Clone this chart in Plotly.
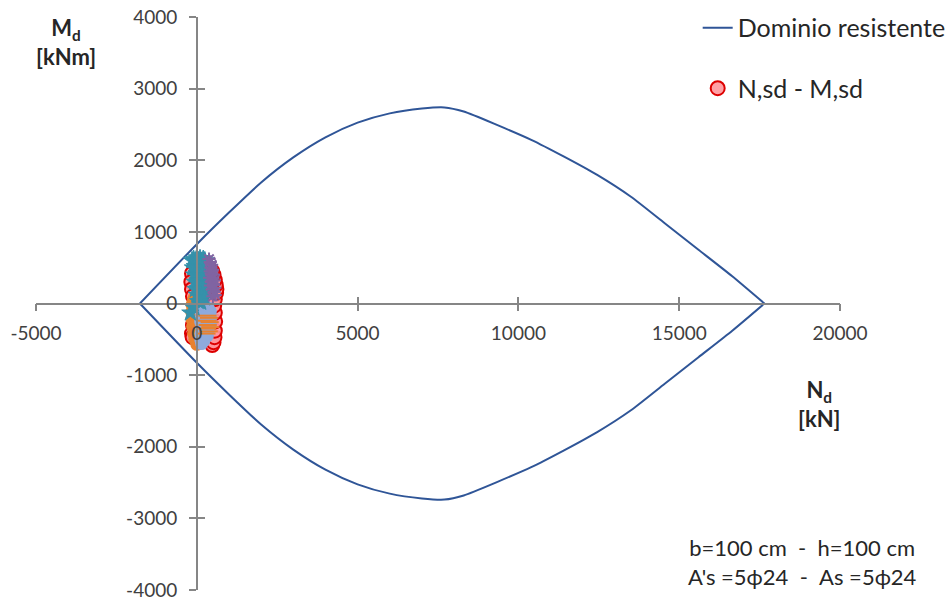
import plotly.graph_objects as go

# Interaction domain (N-M) of the section: upper and lower branches
dom_N_up = [-1770, 0, 1000, 2000, 3000, 4000, 5000, 6000, 7000, 7700, 8300, 9350, 10400,
            11420, 12450, 13500, 14550, 15600, 16650, 17650]
dom_M_up = [0, 828, 1270, 1690, 2040, 2320, 2525, 2655, 2722, 2738, 2680, 2490, 2285,
            2050, 1795, 1490, 1120, 750, 380, 0]
dom_N_low = [17650, 16650, 15600, 14550, 13500, 12450, 11420, 10400, 9350, 8300, 7700, 7000,
             6000, 5000, 4000, 3000, 2000, 1000, 0, -1770]
dom_M_low = [0, -380, -750, -1120, -1490, -1795, -2050, -2285, -2490, -2680, -2738, -2722,
             -2655, -2525, -2320, -2040, -1690, -1270, -828, 0]

# Design actions N,sd - M,sd
sd_N = [-150, -170, -150, -120, -60, 0, 100, 200, 300, 400, 450, 480, 520, 550, 560,
        570, 560, 540, 560, 600, 610, 590, 560, 520, 480, 420, 300, 150, 30, -120, -150, -130]
sd_M = [420, 300, 200, 100, 30, -60, -150, -280, -420, -510, -550, -580, -540, -470, -380,
        -250, -130, -30, 60, 150, 200, 260, 330, 400, 450, 480, 500, 500, 470, -300, -420, -470]

# Other load combinations
teal_N = [-150, -100, -50, 0, 50, 100, 150, 200, 250, -120, -60, 0, 60, 120, 180, 240,
          300, -80, 0, 80, 160, 240, 320, -60, 20, 100, 180, 260, 340, -40, 40, 120,
          200, 280, 0, 80, 160, 240, 40, 120, -200, -90]
teal_M = [600, 620, 580, 640, 600, 630, 590, 620, 600, 500, 520, 500, 530, 500, 510, 490,
          470, 400, 420, 400, 420, 390, 380, 300, 320, 300, 310, 290, 270, 200, 210, 190,
          200, 170, 120, 110, 100, 80, 30, 20, -130, -60]

purple_N = [380, 420, 460, 440, 490, 470, 520, 500, 540, 460, 520, 560, 490, 540, 570,
            500, 420, 400, 430]
purple_M = [620, 580, 540, 500, 470, 420, 400, 350, 320, 300, 260, 220, 200, 160, 120,
            100, 450, 360, 250]

orange_N = [-100, 0, 80, -150, -60, 40, 120, -160, -80, 30, -150, -60, 20, -130, -60, 0,
            -100, -30, 40, -60, 20, 0, 80]
orange_M = [60, 80, 50, -20, -40, -20, -30, -120, -130, -110, -220, -210, -240, -320, -330,
            -300, -420, -430, -400, -500, -520, -570, -560]

lblue_N = [150, 250, 350, 120, 220, 320, 420, 150, 250, 350, 430, 120, 220, 320, 420, 150,
           250, 350, 130, 230, 330, 120, 220, 150]
lblue_M = [-20, -40, -60, -100, -120, -130, -110, -180, -200, -220, -200, -260, -280, -300,
           -290, -340, -360, -380, -420, -440, -450, -500, -520, -560]

dash_N = [330, 380, 320, 400, 340, 420, 320, 370, 300]
dash_M = [-170, -200, -240, -260, -300, -330, -350, -390, -420]

x_ticks = [-5000, 0, 5000, 10000, 15000, 20000]
x_labels = ["-5000", "0", "5000", "10000", "15000", "20000"]
y_ticks = [-4000, -3000, -2000, -1000, 0, 1000, 2000, 3000, 4000]
y_labels = ["-4000", "-3000", "-2000", "-1000", "0", "1000", "2000", "3000", "4000"]

FONT = "Lato"
AXIS_GREY = "#868686"
TEXT = "#262626"
DOM_BLUE = "#2F5597"
PURPLE = "#8064A2"
ORANGE = "#E8812F"

fig = go.Figure()

fig.add_trace(go.Scatter(x=dom_N_up, y=dom_M_up, mode="lines", name="Dominio resistente",
                         line=dict(color=DOM_BLUE, width=2, shape="spline", smoothing=0.6),
                         legendgroup="a"))
fig.add_trace(go.Scatter(x=dom_N_low, y=dom_M_low, mode="lines", showlegend=False,
                         line=dict(color=DOM_BLUE, width=2, shape="spline", smoothing=0.6),
                         legendgroup="a"))
fig.add_trace(go.Scatter(x=sd_N, y=sd_M, mode="markers", name="N,sd - M,sd",
                         marker=dict(symbol="circle", size=14, color="rgba(255,150,155,0.9)",
                                     line=dict(color="#DD0000", width=2)),
                         legendgroup="b"))
fig.add_trace(go.Scatter(x=orange_N, y=orange_M, mode="markers", showlegend=False,
                         marker=dict(symbol="circle", size=13, color=ORANGE)))
fig.add_trace(go.Scatter(x=lblue_N, y=lblue_M, mode="markers", showlegend=False,
                         marker=dict(symbol="circle", size=13, color="#8FAADC")))
fig.add_trace(go.Scatter(x=dash_N, y=dash_M, mode="markers", showlegend=False,
                         marker=dict(symbol="line-ew", size=13, color=ORANGE,
                                     line=dict(color=ORANGE, width=2))))
fig.add_trace(go.Scatter(x=teal_N, y=teal_M, mode="markers", showlegend=False,
                         marker=dict(symbol="star", size=13, color="#3591AA",
                                     line=dict(color="#3591AA", width=1))))
fig.add_trace(go.Scatter(x=purple_N, y=purple_M, mode="markers", showlegend=False,
                         marker=dict(symbol="asterisk-open", size=11, color=PURPLE,
                                     line=dict(color=PURPLE, width=2))))
# companion axes carrying the inner half of the cross tick marks
fig.add_trace(go.Scatter(x=[None], y=[None], xaxis="x2", yaxis="y2", showlegend=False,
                         hoverinfo="skip"))

x_range = [-5000.5, 20000.5]
y_range = [-4000.5, 4000.5]

axis_common = dict(showgrid=False, zeroline=False, linecolor=AXIS_GREY, linewidth=1.5,
                   tickcolor=AXIS_GREY, tickwidth=1.5, ticklen=7, ticklabeloverflow="allow",
                   tickfont=dict(family=FONT, size=19, color="#404040"))

fig.update_layout(
    width=948, height=600,
    margin=dict(l=36, r=108, t=17, b=10, autoexpand=False),
    paper_bgcolor="white", plot_bgcolor="white",
    xaxis=dict(range=x_range, tickvals=x_ticks, ticktext=x_labels, ticks="outside",
               showline=True, anchor="free", position=0.5, ticklabelstandoff=6, **axis_common),
    yaxis=dict(range=y_range, tickvals=y_ticks, ticktext=y_labels, ticks="outside",
               showline=True, anchor="free", position=0.2, ticklabelstandoff=8, **axis_common),
    xaxis2=dict(range=x_range, tickvals=x_ticks, ticks="inside", showline=False,
                showticklabels=False, overlaying="x", anchor="free", position=0.5,
                showgrid=False, zeroline=False, tickcolor=AXIS_GREY, tickwidth=1.5, ticklen=7),
    yaxis2=dict(range=y_range, tickvals=y_ticks, ticks="inside", showline=False,
                showticklabels=False, overlaying="y", anchor="free", position=0.2,
                showgrid=False, zeroline=False, tickcolor=AXIS_GREY, tickwidth=1.5, ticklen=7),
    legend=dict(x=0.823, y=1.021, xanchor="left", yanchor="top", traceorder="grouped",
                tracegroupgap=25, bgcolor="rgba(0,0,0,0)",
                font=dict(family=FONT, size=25, color=TEXT)),
    showlegend=True,
)

fig.add_annotation(xref="paper", yref="paper", x=0.037, y=0.956, xanchor="center",
                   yanchor="middle", showarrow=False,
                   text="<b>M<sub>d</sub></b><br><b>[kNm]</b>", align="center",
                   font=dict(family=FONT, size=22, color=TEXT))
fig.add_annotation(xref="paper", yref="paper", x=0.975, y=0.325, xanchor="center",
                   yanchor="middle", showarrow=False,
                   text="<b>N<sub>d</sub></b><br><b>[kN]</b>", align="center",
                   font=dict(family=FONT, size=22, color=TEXT))
fig.add_annotation(xref="paper", yref="paper", x=0.953, y=0.049, xanchor="center",
                   yanchor="middle", showarrow=False,
                   text="b=100 cm  -  h=100 cm<br>A's =5ϕ24  -  As =5ϕ24", align="center",
                   font=dict(family=FONT, size=22, color=TEXT))

fig.write_html("out.html")
